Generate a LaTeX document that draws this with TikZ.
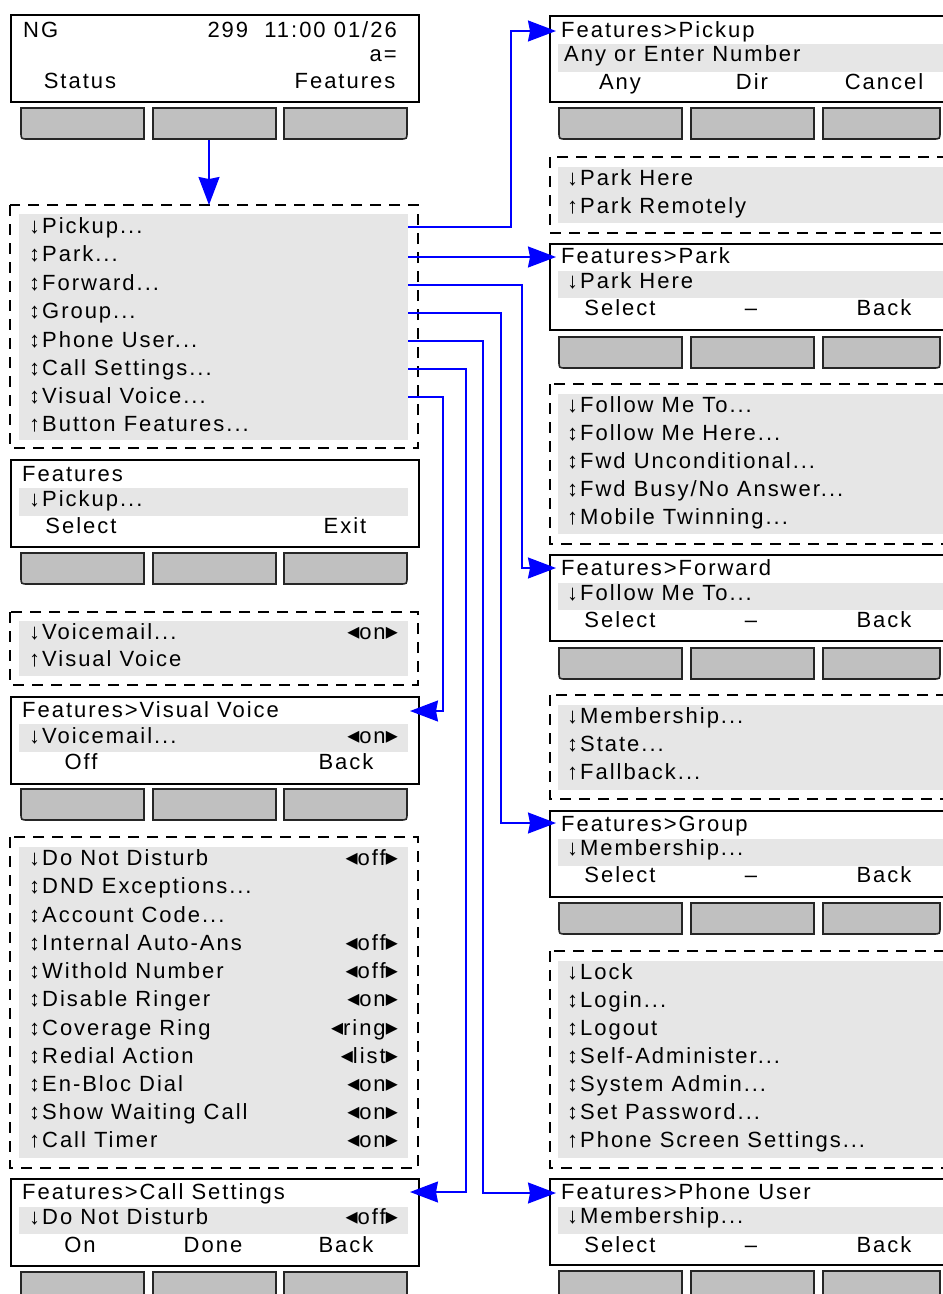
\documentclass[tikz,border=0pt]{standalone}
\usepackage{fontspec}
\setmainfont{Liberation Sans}[LetterSpace=9]
\newfontfamily\trifont{DejaVu Sans}
\usetikzlibrary{arrows.meta}
\definecolor{rowgrey}{RGB}{230,230,230}
\definecolor{btngrey}{RGB}{192,192,192}
\definecolor{linkblue}{RGB}{0,0,255}
\newcommand\tril{{\trifont\fontsize{24}{24}\selectfont ◂}}
\newcommand\trir{{\trifont\fontsize{24}{24}\selectfont ▸}}
\newcommand\btnrow[7]{%
  \draw[btn] (#2,#1) -- (#3,#1) -- (#3,#1+31) -- (#2+7,#1+31) .. controls (#2,#1+31) .. (#2,#1+24) -- cycle;
  \draw[btn] (#4,#1) rectangle (#5,#1+31);
  \draw[btn] (#6,#1) -- (#7,#1) -- (#7,#1+24) .. controls (#7,#1+31) .. (#7-7,#1+31) -- (#6,#1+31) -- cycle;
}
\begin{document}
\begin{tikzpicture}[x=1pt,y=-1pt,
  scr/.style={draw=black,line width=1.6pt,fill=white,rectangle,inner sep=0pt,anchor=north west,minimum width=408pt,minimum height=87pt},
  scrR/.style={scr,minimum width=406pt,minimum height=86pt},
  dbox/.style={draw=black,line width=1.6pt,dash pattern=on 11pt off 8pt},
  row/.style={fill=rowgrey},
  btn/.style={draw=black!85,line width=1.6pt,fill=btngrey},
  txt/.style={inner sep=0pt,text height=16pt,text depth=5pt,anchor=west,font=\fontsize{22}{24}\selectfont},
  ctr/.style={txt,anchor=center},
  rtx/.style={txt,anchor=east},
  conn/.style={draw=linkblue,line width=1.5pt},
  arr/.style={conn,-{Stealth[length=28pt,width=21pt,inset=2pt]}}
]
\useasboundingbox (0,0) rectangle (943,1294);
\clip (0,0) rectangle (943,1294);

% ================= LEFT COLUMN =================
% Home screen
\node[scr] (sHome) at (10,14) {};
\node[txt] (hNG) at (23,32) {NG};
\node[rtx] (hTime) at (397,32) {299\ \ 11:00 01/26};
\node[rtx] (hA) at (397,56) {a=};
\node[ctr] (hK1) at (80,83) {Status};
\node[ctr] (hK3) at (345,83) {Features};
\btnrow{108}{21}{144}{153}{276}{284}{407}
\coordinate (kFeat) at (209,140);

% Features menu
\draw[dbox] (10,205) rectangle (418,448);
\fill[row] (19,214) rectangle (408,440);
\coordinate (mTop) at (209,205);
\node[txt] (fm1) at (29,228) {↓Pickup...};
\node[txt] (fm2) at (29,256) {↕Park...};
\node[txt] (fm3) at (29,285) {↕Forward...};
\node[txt] (fm4) at (29,313) {↕Group...};
\node[txt] (fm5) at (29,342) {↕Phone User...};
\node[txt] (fm6) at (29,370) {↕Call Settings...};
\node[txt] (fm7) at (29,398) {↕Visual Voice...};
\node[txt] (fm8) at (29,426) {↑Button Features...};
\coordinate (oPick) at (408,227);
\coordinate (oPark) at (408,257);
\coordinate (oFwd) at (408,285);
\coordinate (oGrp) at (408,313);
\coordinate (oUser) at (408,341);
\coordinate (oCall) at (408,369);
\coordinate (oVis) at (408,397);

% Features screen
\node[scr] (sFeat) at (10,459) {};
\fill[row] (19,488) rectangle (408,516);
\node[txt] (fT) at (22,476) {Features};
\node[txt] (fR) at (29,501) {↓Pickup...};
\node[ctr] (fK1) at (81,528) {Select};
\node[ctr] (fK3) at (345,528) {Exit};
\btnrow{553}{21}{144}{153}{276}{284}{407}

% Visual voice menu
\draw[dbox] (10,612) rectangle (418,685);
\fill[row] (19,621) rectangle (408,676);
\node[txt] (vm1) at (29,634) {↓Voicemail...};
\node[rtx] (vm1v) at (398,634) {\tril on\trir};
\node[txt] (vm2) at (29,661) {↑Visual Voice};

% Visual voice screen
\node[scr] (sVis) at (10,696) {};
\fill[row] (19,724) rectangle (408,752);
\node[txt] (vT) at (22,712) {Features>Visual Voice};
\node[txt] (vR) at (29,738) {↓Voicemail...};
\node[rtx] (vRv) at (398,738) {\tril on\trir};
\node[ctr] (vK1) at (81,764) {Off};
\node[ctr] (vK3) at (346,764) {Back};
\btnrow{789}{21}{144}{153}{276}{284}{407}
\coordinate (iVis) at (410,711);

% Call settings menu
\draw[dbox] (10,837) rectangle (418,1168);
\fill[row] (19,847) rectangle (408,1158);
\node[txt] (cm1) at (29,860) {↓Do Not Disturb};
\node[rtx] (cm1v) at (398,860) {\tril off\trir};
\node[txt] (cm2) at (29,888) {↕DND Exceptions...};
\node[txt] (cm3) at (29,917) {↕Account Code...};
\node[txt] (cm4) at (29,945) {↕Internal Auto-Ans};
\node[rtx] (cm4v) at (398,945) {\tril off\trir};
\node[txt] (cm5) at (29,973) {↕Withold Number};
\node[rtx] (cm5v) at (398,973) {\tril off\trir};
\node[txt] (cm6) at (29,1001) {↕Disable Ringer};
\node[rtx] (cm6v) at (398,1001) {\tril on\trir};
\node[txt] (cm7) at (29,1030) {↕Coverage Ring};
\node[rtx] (cm7v) at (398,1030) {\tril ring\trir};
\node[txt] (cm8) at (29,1058) {↕Redial Action};
\node[rtx] (cm8v) at (398,1058) {\tril list\trir};
\node[txt] (cm9) at (29,1086) {↕En-Bloc Dial};
\node[rtx] (cm9v) at (398,1086) {\tril on\trir};
\node[txt] (cm10) at (29,1114) {↕Show Waiting Call};
\node[rtx] (cm10v) at (398,1114) {\tril on\trir};
\node[txt] (cm11) at (29,1142) {↑Call Timer};
\node[rtx] (cm11v) at (398,1142) {\tril on\trir};

% Call settings screen
\node[scr] (sCall) at (10,1178) {};
\fill[row] (19,1207) rectangle (408,1234);
\node[txt] (cT) at (22,1194) {Features>Call Settings};
\node[txt] (cR) at (29,1219) {↓Do Not Disturb};
\node[rtx] (cRv) at (398,1219) {\tril off\trir};
\node[ctr] (cK1) at (80,1247) {On};
\node[ctr] (cK2) at (213,1247) {Done};
\node[ctr] (cK3) at (346,1247) {Back};
\btnrow{1272}{21}{144}{153}{276}{284}{407}
\coordinate (iCall) at (410,1192);

% ================= RIGHT COLUMN =================
% Pickup screen
\node[scrR] (sPick) at (549,15) {};
\fill[row] (558,44) rectangle (946,72);
\node[txt] (pT) at (561,32) {Features>Pickup};
\node[txt] (pR) at (564,56) {Any or Enter Number};
\node[ctr] (pK1) at (620,84) {Any};
\node[ctr] (pK2) at (752,84) {Dir};
\node[ctr] (pK3) at (884,84) {Cancel};
\btnrow{108}{559}{682}{691}{814}{823}{940}
\coordinate (iPick) at (556,31);

% Park menu
\draw[dbox] (550,157) rectangle (958,233);
\fill[row] (558,167) rectangle (948,223);
\node[txt] (km1) at (567,180) {↓Park Here};
\node[txt] (km2) at (567,208) {↑Park Remotely};

% Park screen
\node[scrR] (sPark) at (549,243) {};
\fill[row] (558,271) rectangle (946,298);
\node[txt] (kT) at (561,258) {Features>Park};
\node[txt] (kR) at (567,283) {↓Park Here};
\node[ctr] (kK1) at (620,310) {Select};
\node[ctr] (kK2) at (751,310) {–};
\node[ctr] (kK3) at (884,310) {Back};
\btnrow{337}{559}{682}{691}{814}{823}{940}
\coordinate (iPark) at (556,257);

% Forward menu
\draw[dbox] (550,384) rectangle (958,544);
\fill[row] (558,394) rectangle (948,534);
\node[txt] (wm1) at (567,407) {↓Follow Me To...};
\node[txt] (wm2) at (567,435) {↕Follow Me Here...};
\node[txt] (wm3) at (567,463) {↕Fwd Unconditional...};
\node[txt] (wm4) at (567,491) {↕Fwd Busy/No Answer...};
\node[txt] (wm5) at (567,519) {↑Mobile Twinning...};

% Forward screen
\node[scrR] (sFwd) at (549,554) {};
\fill[row] (558,583) rectangle (946,610);
\node[txt] (wT) at (561,570) {Features>Forward};
\node[txt] (wR) at (567,595) {↓Follow Me To...};
\node[ctr] (wK1) at (620,622) {Select};
\node[ctr] (wK2) at (751,622) {–};
\node[ctr] (wK3) at (884,622) {Back};
\btnrow{648}{559}{682}{691}{814}{823}{940}
\coordinate (iFwd) at (556,568);

% Group menu
\draw[dbox] (550,695) rectangle (958,799);
\fill[row] (558,705) rectangle (948,790);
\node[txt] (gm1) at (567,718) {↓Membership...};
\node[txt] (gm2) at (567,746) {↕State...};
\node[txt] (gm3) at (567,774) {↑Fallback...};

% Group screen
\node[scrR] (sGrp) at (549,810) {};
\fill[row] (558,839) rectangle (946,866);
\node[txt] (gT) at (561,826) {Features>Group};
\node[txt] (gR) at (567,850) {↓Membership...};
\node[ctr] (gK1) at (620,877) {Select};
\node[ctr] (gK2) at (751,877) {–};
\node[ctr] (gK3) at (884,877) {Back};
\btnrow{903}{559}{682}{691}{814}{823}{940}
\coordinate (iGrp) at (556,823);

% Phone user menu
\draw[dbox] (550,951) rectangle (958,1168);
\fill[row] (558,961) rectangle (948,1158);
\node[txt] (um1) at (567,974) {↓Lock};
\node[txt] (um2) at (567,1002) {↕Login...};
\node[txt] (um3) at (567,1030) {↕Logout};
\node[txt] (um4) at (567,1058) {↕Self-Administer...};
\node[txt] (um5) at (567,1086) {↕System Admin...};
\node[txt] (um6) at (567,1114) {↕Set Password...};
\node[txt] (um7) at (567,1142) {↑Phone Screen Settings...};

% Phone user screen
\node[scrR] (sUser) at (549,1178) {};
\fill[row] (558,1207) rectangle (946,1234);
\node[txt] (uT) at (561,1194) {Features>Phone User};
\node[txt] (uR) at (567,1218) {↓Membership...};
\node[ctr] (uK1) at (620,1247) {Select};
\node[ctr] (uK2) at (751,1247) {–};
\node[ctr] (uK3) at (884,1247) {Back};
\btnrow{1271}{559}{682}{691}{814}{823}{940}
\coordinate (iUser) at (556,1193);

% ================= CONNECTORS =================
\draw[arr] (kFeat) -- (mTop);
\draw[arr] (oPick) -- ++(103,0) |- (iPick);
\draw[arr] (oPark) -- (iPark);
\draw[arr] (oFwd) -- ++(114,0) |- (iFwd);
\draw[arr] (oGrp) -- ++(93,0) |- (iGrp);
\draw[arr] (oUser) -- ++(75,0) |- (iUser);
\draw[arr] (oCall) -- ++(58,0) |- (iCall);
\draw[arr] (oVis) -- ++(35,0) |- (iVis);
\end{tikzpicture}
\end{document}
